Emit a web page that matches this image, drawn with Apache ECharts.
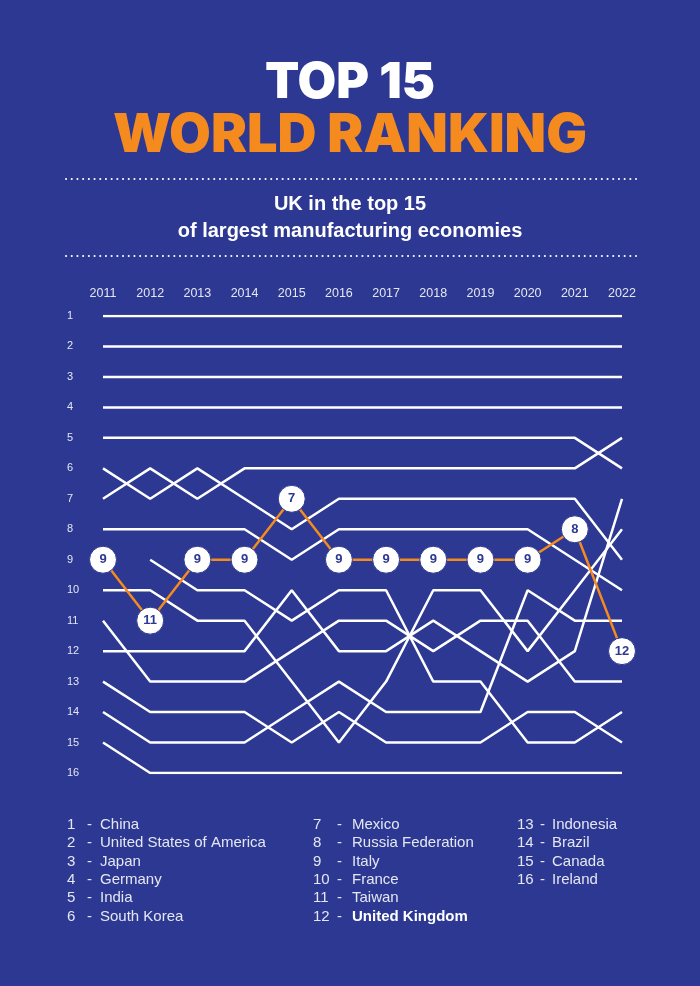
<!DOCTYPE html>
<html><head><meta charset="utf-8">
<script src="https://cdn.jsdelivr.net/npm/echarts@6/dist/echarts.min.js"></script>
<style>html,body{margin:0;padding:0;background:#2C3891;}#c{width:700px;height:986px;}</style>
</head><body><div id="c"></div>
<script>
const years = ['2011','2012','2013','2014','2015','2016','2017','2018','2019','2020','2021','2022'];
const rankLabels = ['1','2','3','4','5','6','7','8','9','10','11','12','13','14','15','16'];
const line1 = [1,1,1,1,1,1,1,1,1,1,1,1];
const line2 = [2,2,2,2,2,2,2,2,2,2,2,2];
const line3 = [3,3,3,3,3,3,3,3,3,3,3,3];
const line4 = [4,4,4,4,4,4,4,4,4,4,4,4];
const line5 = [5,5,5,5,5,5,5,5,5,5,5,6];
const line6 = [7,6,7,6,6,6,6,6,6,6,6,5];
const line7 = [6,7,6,7,8,7,7,7,7,7,7,9];
const line8 = [8,8,8,8,9,8,8,8,8,8,9,10];
const lineD = [null,9,10,10,11,10,10,13,13,15,15,14];
const line10 = [10,10,11,11,13,15,13,10,10,12,10,8];
const line11 = [11,13,13,13,12,11,11,12,11,11,13,13];
const line12 = [12,12,12,12,10,12,12,11,12,13,12,7];
const line13 = [13,14,14,14,15,14,15,15,15,14,14,15];
const line14 = [14,15,15,15,14,13,14,14,14,10,11,11];
const line15 = [15,16,16,16,16,16,16,16,16,16,16,16];
const ukRank = [9,11,9,9,7,9,9,9,9,9,8,12];
const legendNums = ['1','2','3','4','5','6','7','8','9','10','11','12','13','14','15','16'];
const legendNames = ['China','United States of America','Japan','Germany','India','South Korea','Mexico','Russia Federation','Italy','France','Taiwan','United Kingdom','Indonesia','Brazil','Canada','Ireland'];

const BG = '#2C3891', ORANGE = '#F58A1F', TXT = '#E4E7F2';
const whiteLines = [line1,line2,line3,line4,line5,line6,line7,line8,lineD,line10,line11,line12,line13,line14,line15];

const series = whiteLines.map((d,i) => ({
  type:'line', name:'l'+i, data:d, symbol:'none', silent:true, animation:false,
  lineStyle:{color:'#FFFFFF', width:2.5}, z:2
}));
series.push({
  type:'line', name:'UK', data:ukRank, animation:false, z:5,
  lineStyle:{color:ORANGE, width:2.5},
  symbol:'circle', symbolSize:27,
  itemStyle:{color:'#FFFFFF', borderColor:BG, borderWidth:1},
  label:{show:true, position:'inside', color:BG, fontWeight:'bold', fontSize:13, fontFamily:'Liberation Sans'}
});

const graphics = [];
graphics.push({type:'text', left:'center', top:58, style:{text:'TOP 15', fill:'#FFFFFF', font:'900 50px Inter', textAlign:'center'}});
graphics.push({type:'text', left:'center', top:109, style:{text:'WORLD RANKING', fill:ORANGE, font:'900 54px Inter', textAlign:'center'}});
graphics.push({type:'line', shape:{x1:66,y1:179,x2:636,y2:179}, style:{stroke:'#FFFFFF', lineWidth:2, lineDash:[0.1,5.6], lineCap:'round'}});
graphics.push({type:'line', shape:{x1:66,y1:256,x2:636,y2:256}, style:{stroke:'#FFFFFF', lineWidth:2, lineDash:[0.1,5.6], lineCap:'round'}});
graphics.push({type:'text', left:'center', top:194, style:{text:'UK in the top 15', fill:'#FFFFFF', font:'bold 20px "Liberation Sans"', textAlign:'center'}});
graphics.push({type:'text', left:'center', top:221, style:{text:'of largest manufacturing economies', fill:'#FFFFFF', font:'bold 20px "Liberation Sans"', textAlign:'center'}});

const colX = [[67,87,100],[313,337,352],[517,540,552]];
const rowY0 = 825, rowStep = 18.3;
legendNames.forEach((nm,i) => {
  const col = i < 6 ? 0 : (i < 12 ? 1 : 2);
  const row = i < 6 ? i : (i < 12 ? i-6 : i-12);
  const y = rowY0 + row*rowStep;
  const cx = colX[col];
  const bold = nm === 'United Kingdom';
  graphics.push({type:'text', x:cx[0], y:y, style:{text:legendNums[i], fill:TXT, font:'15px "Liberation Sans"', textVerticalAlign:'middle'}});
  graphics.push({type:'text', x:cx[1], y:y, style:{text:'-', fill:TXT, font:'15px "Liberation Sans"', textVerticalAlign:'middle'}});
  graphics.push({type:'text', x:cx[2], y:y, style:{text:nm, fill: bold ? '#FFFFFF' : TXT, font:(bold?'bold ':'')+'15px "Liberation Sans"', textVerticalAlign:'middle'}});
});

const chart = echarts.init(document.getElementById('c'), null, {renderer:'canvas'});
chart.setOption({
  backgroundColor: BG,
  animation:false,
  grid:{left:103, right:78, top:316, bottom:213, containLabel:false},
  xAxis:{type:'category', data:years, boundaryGap:false, position:'top',
    axisLine:{show:false}, axisTick:{show:false}, splitLine:{show:false},
    axisLabel:{color:TXT, fontSize:12.5, margin:16, fontFamily:'Liberation Sans'}},
  yAxis:{type:'value', inverse:true, min:1, max:16, interval:1,
    axisLine:{show:false}, axisTick:{show:false}, splitLine:{show:false},
    axisLabel:{color:TXT, fontSize:11, align:'left', margin:36, fontFamily:'Liberation Sans',
      formatter:(v)=>rankLabels[v-1]}},
  series: series,
  graphic: graphics
});
</script></body></html>
